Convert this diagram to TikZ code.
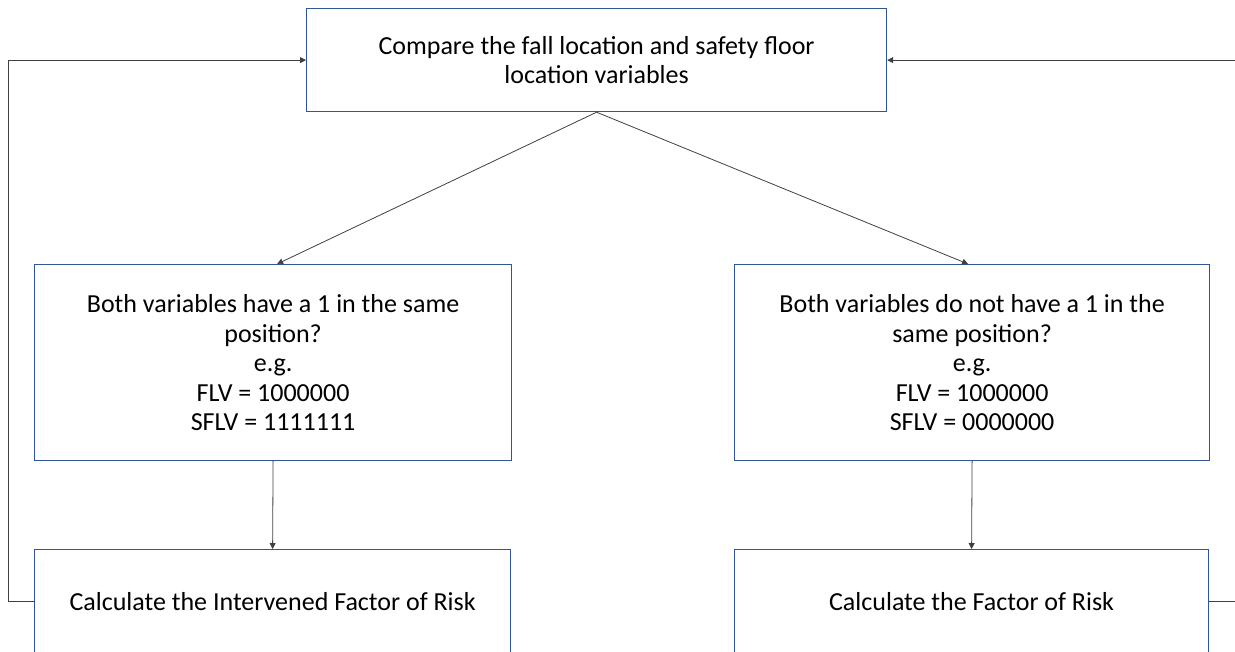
\documentclass[tikz,border=0pt]{standalone}
\usepackage{fontspec}
\setmainfont{Carlito}
\usetikzlibrary{arrows.meta}
\definecolor{boxblue}{RGB}{47,85,151}
\definecolor{linegray}{RGB}{64,64,64}
\begin{document}
\begin{tikzpicture}[x=1pt,y=-1pt,
  box/.style={draw=boxblue, line width=1.2pt, fill=white, anchor=north west,
    align=center, inner sep=0pt, font=\fontsize{26}{29.5}\selectfont},
  link/.style={draw=linegray, line width=0.8pt, -{Triangle[length=6pt,width=6pt]}}]
\useasboundingbox (0,0) rectangle (1235,651);
\clip (0,0) rectangle (1235,651);
% decision boxes
\node[box, minimum width=580, minimum height=103] (top) at (306,8)
  {Compare the fall location and safety floor\\location variables};
\node[box, minimum width=477, minimum height=196] (l1) at (34,264)
  {Both variables have a 1 in the same\\position?\\e.g.\\FLV = 1000000\\SFLV = 1111111};
\node[box, minimum width=475, minimum height=196] (r1) at (734,264)
  {Both variables do not have a 1 in the\\same position?\\e.g.\\FLV = 1000000\\SFLV = 0000000};
% result boxes
\node[box, minimum width=476, minimum height=104] (l2) at (34,549)
  {Calculate the Intervened Factor of Risk};
\node[box, minimum width=474, minimum height=104] (r2) at (734,549)
  {Calculate the Factor of Risk};
% connectors
\draw[link] (top.south) -- ([xshift=4pt]l1.north);
\draw[link] (top.south) -- ([xshift=-4pt]r1.north);
\draw[link] (l1.south) -- (l2.north);
\draw[link] (r1.south) -- (r2.north);
\draw[link] (l2.west) -- ++(-26,0) |- (top.west);
\draw[link] (r2.east) -- ++(26,0) |- (top.east);
\end{tikzpicture}
\end{document}
